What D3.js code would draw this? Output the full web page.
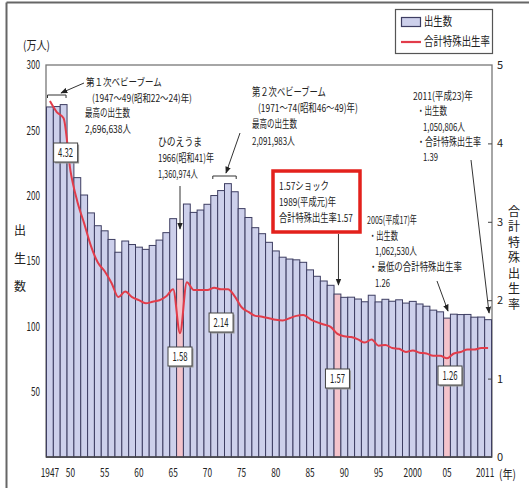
<!DOCTYPE html>
<html><head><meta charset="utf-8">
<script src="https://cdn.jsdelivr.net/npm/d3@7"></script>
<style>
body{margin:0;background:#fff}
svg{display:block}
text{font-family:"Noto Sans CJK JP","Noto Sans",sans-serif;fill:#222}
</style>
</head><body>
<svg id="c" width="529" height="488"></svg>
<script>
// ---- data ----
const years = [1947,1948,1949,1950,1951,1952,1953,1954,1955,1956,1957,1958,1959,1960,1961,1962,1963,1964,1965,1966,1967,1968,1969,1970,1971,1972,1973,1974,1975,1976,1977,1978,1979,1980,1981,1982,1983,1984,1985,1986,1987,1988,1989,1990,1991,1992,1993,1994,1995,1996,1997,1998,1999,2000,2001,2002,2003,2004,2005,2006,2007,2008,2009,2010,2011];
// births (万人)
const births = [267.9,268.2,269.7,233.8,213.8,200.5,186.8,177.0,173.1,166.5,156.7,165.3,162.6,160.6,158.9,161.9,166.0,171.7,182.4,136.1,193.6,187.2,189.0,193.4,200.1,203.9,209.2,203.0,190.1,183.3,175.5,170.9,164.3,157.7,152.9,151.5,150.9,149.0,143.2,138.3,134.7,131.4,124.7,122.2,122.3,120.9,118.8,123.8,118.7,120.7,119.2,120.3,117.8,119.1,117.1,115.4,112.4,111.1,106.3,109.3,109.0,109.1,107.0,107.1,105.1];
// total fertility rate
const tfr = [4.54,4.40,4.32,3.65,3.26,2.98,2.69,2.48,2.37,2.22,2.04,2.11,2.04,2.00,1.96,1.98,2.00,2.05,2.14,1.58,2.23,2.13,2.13,2.13,2.16,2.14,2.14,2.05,1.91,1.85,1.80,1.79,1.77,1.75,1.74,1.77,1.80,1.81,1.76,1.72,1.69,1.66,1.57,1.54,1.53,1.50,1.46,1.50,1.42,1.43,1.39,1.38,1.34,1.36,1.33,1.32,1.29,1.29,1.26,1.32,1.34,1.37,1.37,1.39,1.39];
const highlightYears = [1966,1989,2005];
const boxYears = [1949,1966,1972,1989,2005];
const xTickYears = [1947,1950,1955,1960,1965,1970,1975,1980,1985,1990,1995,2000,2005,2011];
const xTickLabels = ["1947","50","55","60","65","70","75","80","85","90","95","2000","05","2011"];
const yLeftTicks = [50,100,150,200,250,300];
const yRightTicks = [0,1,2,3,4,5];

// ---- layout ----
const svg = d3.select("#c");
const L = 46.5, R = 491.5, T = 65, B = 457;
const x = d3.scaleBand().domain(years).range([L, R]).padding(0);
const yL = d3.scaleLinear().domain([0,300]).range([B,T]);
const yR = d3.scaleLinear().domain([0,5]).range([B,T]);
const bw = x.bandwidth();
const cx = yr => x(yr) + bw/2;

const BAR = "#cdd0eb", BARS = "#3e3e62", PINK = "#f4c3cb", RED = "#e23c4a";

// condense a text horizontally to width w, using a transform (keeps real bounding box)
function fit(sel, w){
  const n = sel.node();
  const nat = n.getComputedTextLength();
  if (!nat) return sel;
  const s = Math.min(1, w / nat);
  const x0 = +sel.attr("x") || 0, y0 = +sel.attr("y") || 0;
  const prev = sel.attr("transform") || "";
  sel.attr("x", 0).attr("y", 0).attr("transform", `${prev} translate(${x0},${y0}) scale(${s},1)`);
  return sel;
}
function txt(xp, yp, s, w, size, anchor){
  const t = svg.append("text").attr("x",xp).attr("y",yp).attr("dy","0.36em")
    .attr("font-size", size||11).attr("text-anchor", anchor||"start").text(s);
  if (w) fit(t, w);
  return t;
}
function vtxt(xp, yp, s, size, spacing){
  return svg.append("text").attr("x",xp).attr("y",yp)
    .attr("font-size", size).style("writing-mode","vertical-rl").style("text-orientation","upright")
    .style("letter-spacing", spacing+"px").text(s);
}

// outer frame
svg.append("line").attr("x1",6.5).attr("x2",529).attr("y1",2.5).attr("y2",2.5).attr("stroke","#666").attr("stroke-width",2);
svg.append("line").attr("x1",6.5).attr("x2",6.5).attr("y1",2.5).attr("y2",488).attr("stroke","#666").attr("stroke-width",2);

// plot frame
svg.append("rect").attr("x",L-0.5).attr("y",T).attr("width",R-L+1).attr("height",B-T)
  .attr("fill","none").attr("stroke","#777").attr("stroke-width",1.3);

// bars
svg.append("g").selectAll("rect").data(years).join("rect")
  .attr("x", d => x(d)).attr("width", bw)
  .attr("y", (d,i) => yL(births[i])).attr("height", (d,i) => B - yL(births[i]))
  .attr("fill", d => highlightYears.includes(d) ? PINK : BAR)
  .attr("stroke", BARS).attr("stroke-width", 1);

// line
const line = d3.line().x((d,i) => cx(years[i])).y(d => yR(d)).curve(d3.curveMonotoneX);
svg.append("path").datum(tfr).attr("d", line).attr("fill","none").attr("stroke",RED).attr("stroke-width",2);

// axes
svg.append("line").attr("x1",L-0.5).attr("x2",R+0.5).attr("y1",B).attr("y2",B).attr("stroke","#444").attr("stroke-width",1.3);
const gx = svg.append("g").attr("transform",`translate(0,${B})`)
  .call(d3.axisBottom(x).tickValues(xTickYears).tickSize(0).tickPadding(11)
    .tickFormat(d => xTickLabels[xTickYears.indexOf(d)]));
gx.select(".domain").remove();
gx.selectAll(".tick").filter(d=>d===2011).select("text").attr("x",-3);
gx.selectAll("text").attr("font-size",12).attr("fill","#222").style("font-family",'"Noto Sans CJK JP",sans-serif')
  .each(function(){ const s=d3.select(this); fit(s, s.text().length*4.6); });

const gl = svg.append("g").attr("transform",`translate(${L-0.5},0)`)
  .call(d3.axisLeft(yL).tickValues(yLeftTicks).tickSize(0).tickPadding(6));
gl.select(".domain").remove();
gl.selectAll("text").attr("font-size",12).attr("fill","#222").style("font-family",'"Noto Sans CJK JP",sans-serif')
  .each(function(){ const s=d3.select(this); fit(s, s.text().length*4.5); });

const gr = svg.append("g").attr("transform",`translate(${R+0.5},0)`)
  .call(d3.axisRight(yR).tickValues(yRightTicks).tickSize(-4).tickPadding(5).tickFormat(d3.format("d")));
gr.select(".domain").remove();
gr.selectAll("line").attr("stroke","#444");
gr.selectAll(".tick").filter(d=>d===0||d===5).select("line").remove();
gr.selectAll("text").attr("font-size",11).attr("fill","#222").style("font-family",'"Noto Sans CJK JP",sans-serif');

// axis titles
txt(23, 46, "(万人)", 27, 12);
txt(499, 475, "(年)", 17, 12);
vtxt(20, 224, "出生数", 12, 16);
vtxt(514, 205, "合計特殊出生率", 12, 3.5);

// legend
svg.append("rect").attr("x",395.5).attr("y",9.5).attr("width",97).attr("height",44).attr("fill","#fff").attr("stroke","#555").attr("stroke-width",1.2);
svg.append("rect").attr("x",401.5).attr("y",17.5).attr("width",19).attr("height",9).attr("fill",BAR).attr("stroke",BARS).attr("stroke-width",1.2);
txt(424, 22, "出生数", 28, 12);
svg.append("line").attr("x1",401).attr("x2",421).attr("y1",42).attr("y2",42).attr("stroke",RED).attr("stroke-width",2.2);
txt(424, 42, "合計特殊出生率", 66, 12);

// arrow marker
const defs = svg.append("defs");
defs.append("marker").attr("id","ah").attr("viewBox","0 0 10 10").attr("refX",9).attr("refY",5)
  .attr("markerWidth",7).attr("markerHeight",7).attr("markerUnits","userSpaceOnUse").attr("orient","auto")
  .append("path").attr("d","M0,1L10,5L0,9Z").attr("fill","#222");
function arrow(x1,y1,x2,y2){
  svg.append("line").attr("x1",x1).attr("y1",y1).attr("x2",x2).attr("y2",y2)
    .attr("stroke","#333").attr("stroke-width",1).attr("marker-end","url(#ah)");
}
function bracket(x1,x2,yy){
  svg.append("path").attr("d",`M${x1},${yy+3}V${yy}H${x2}V${yy+3}`).attr("fill","none").attr("stroke","#333").attr("stroke-width",1);
}

// 1st baby boom
txt(86, 82, "第１次ベビーブーム", 76, 10.5);
txt(92, 98, "(1947～49(昭和22～24)年)", 100, 10.5);
txt(85, 113, "最高の出生数", 45);
txt(85, 129, "2,696,638人", 46);
bracket(x(1947)+1, x(1949)+bw-1, 95);
arrow(84, 83, 61, 93);

// hinoeuma
txt(158, 142, "ひのえうま", 44);
txt(158, 158, "1966(昭和41)年", 56);
txt(158, 174, "1,360,974人", 40);
arrow(cx(1966), 186, cx(1966), 229);

// 2nd baby boom
txt(252, 92, "第２次ベビーブーム", 74);
txt(258, 108, "(1971～74(昭和46～49)年)", 100);
txt(252, 124, "最高の出生数", 45);
txt(252, 141, "2,091,983人", 43);
bracket(x(1971)+2, x(1974)+bw-2, 176);
arrow(240, 133, 226, 173);

// 1.57 shock
svg.append("rect").attr("x",273).attr("y",171).attr("width",87).attr("height",61)
  .attr("fill","#fff").attr("stroke","#e3211c").attr("stroke-width",3.5);
txt(279, 186, "1.57ショック", 50);
txt(279, 202, "1989(平成元)年", 57);
txt(279, 218, "合計特殊出生率1.57", 74);
arrow(cx(1989)+1, 234, cx(1989)+1, 285);

// 2005
txt(367, 220, "2005(平成17)年", 50);
txt(369, 236, "・出生数", 29);
txt(375, 251, "1,062,530人", 42);
txt(369, 267, "・最低の合計特殊出生率", 93);
txt(375, 283, "1.26", 15);
arrow(437, 281, cx(2005)+1, 311);

// 2011
txt(413, 96, "2011(平成23)年", 60);
txt(417, 111, "・出生数", 30);
txt(423, 127, "1,050,806人", 42);
txt(417, 142, "・合計特殊出生率", 64);
txt(423, 157, "1.39", 15);
arrow(471, 160, cx(2011)+1, 313);

// value boxes
const boxY = {1949:143, 1966:347, 1972:313, 1989:369, 2005:366};
boxYears.forEach(yr => {
  const v = tfr[years.indexOf(yr)];
  const bx = cx(yr) - 12 + (yr===2005 ? 3 : 0) + (yr===1949 ? 2 : 0), by = boxY[yr];
  svg.append("rect").attr("x",bx+1.5).attr("y",by+1.5).attr("width",24).attr("height",19).attr("fill","#999");
  svg.append("rect").attr("x",bx).attr("y",by).attr("width",24).attr("height",19).attr("fill","#fff").attr("stroke","#444").attr("stroke-width",1);
  txt(bx+12, by+9.5, v.toFixed(2), 15, 12, "middle");
});
</script>
</body></html>
